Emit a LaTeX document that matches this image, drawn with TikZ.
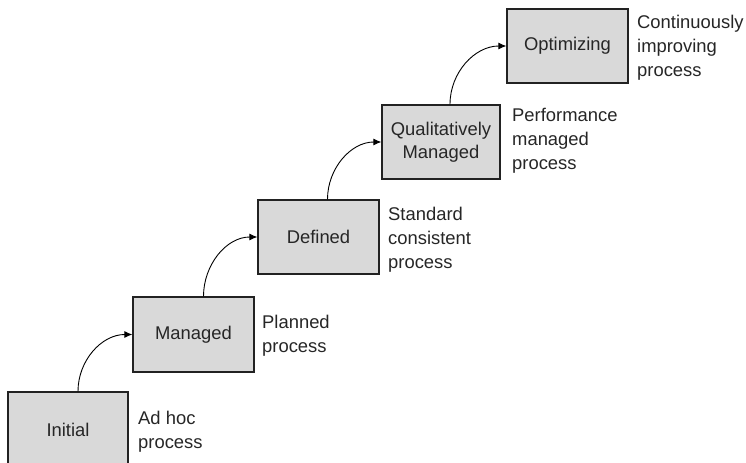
\documentclass[tikz,border=0pt]{standalone}
\usepackage{fontspec}
\setmainfont{Liberation Sans}
\usetikzlibrary{arrows.meta}
\definecolor{boxfill}{HTML}{D9D9D9}
\definecolor{boxline}{HTML}{222222}
\definecolor{txt}{HTML}{262626}
\tikzset{
  stage/.style={draw=boxline, line width=1.3bp, fill=boxfill, rectangle, inner sep=0pt,
    minimum height=74bp, text=txt, align=center,
    font=\fontsize{18.4bp}{23.5bp}\selectfont},
  desc/.style={anchor=north west, inner sep=0pt, align=left, text=txt,
    font=\fontsize{18.4bp}{23.8bp}\selectfont},
  stepline/.style={draw=black, line width=0.9bp, -{Latex[length=8bp,width=7bp]}}
}
\begin{document}
\begin{tikzpicture}[x=1bp,y=-1bp]
\useasboundingbox (0,0) rectangle (746,463);
\node[stage, minimum width=120bp, minimum height=76bp] (ini) at (68,430) {Initial};
\node[stage, minimum width=121bp, minimum height=75bp] (man) at (193.5,334.5) {Managed};
\node[stage, minimum width=121bp] (def) at (318.5,237) {Defined};
\node[stage, minimum width=118bp] (qua) at (441,142) {Qualitatively\\Managed};
\node[stage, minimum width=121bp] (opt) at (567.5,46) {Optimizing};

\node[desc] (dini) at (138,411) {Ad hoc\\process};
\node[desc] (dman) at (262,315) {Planned\\process};
\node[desc] (ddef) at (388,207) {Standard\\consistent\\process};
\node[desc] (dqua) at (512,108) {Performance\\managed\\process};
\node[desc] (dopt) at (637,15) {Continuously\\improving\\process};

\draw[stepline] ([xshift=10bp]ini.north) to[out=90,in=180] (man.west);
\draw[stepline] ([xshift=10bp]man.north) to[out=90,in=180] (def.west);
\draw[stepline] ([xshift=9bp]def.north) to[out=90,in=180] (qua.west);
\draw[stepline] ([xshift=9bp]qua.north) to[out=90,in=180] (opt.west);
\end{tikzpicture}
\end{document}
